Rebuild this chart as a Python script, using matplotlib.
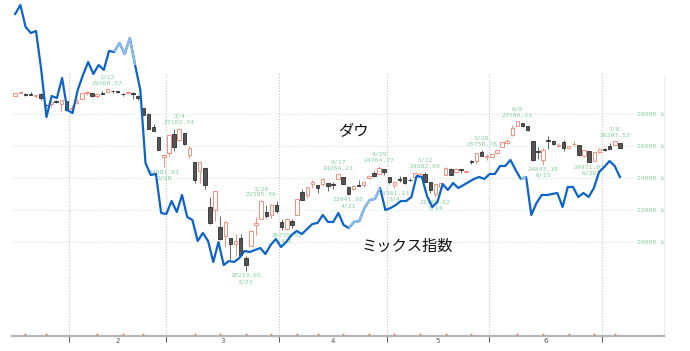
"""Dow candles (Jan-Jul 2020) with the mix index line on a hidden scale."""
import numpy as np
import pandas as pd
import matplotlib
matplotlib.use("Agg")
import matplotlib.pyplot as plt

HOLIDAYS = ["2020-01-20", "2020-02-17", "2020-04-10", "2020-05-25", "2020-07-03"]
dates = pd.bdate_range("2020-01-16", "2020-07-07")
dates = dates[~dates.isin(pd.to_datetime(HOLIDAYS))]

dow_open = [
    29132, 29313, 29261, 29263, 29134, 29235, 28542, 28598, 28820, 28640, 28813,
    28319, 28696, 28939, 29318, 29287, 29094, 29342, 29365, 29458, 29439, 29279,
    29339, 29311, 29150, 28403, 28024, 27209, 26556, 25320,
    25590, 26762, 26383, 26838, 25458, 24992, 24453, 24604, 22184, 21973, 20917,
    20376, 20252, 19899, 20253, 19028, 19722, 21051, 21468, 21898, 21678, 22331,
    21227, 20819, 21285, 21694, 23133, 22917, 23641, 23587, 23634, 23699, 23629,
    23934, 24053, 23419, 23303, 23570, 23537, 23990, 24294, 24274, 24535,
    24085, 23577, 23966, 24041, 23880, 24037, 24154, 24241, 23731, 23024, 23447,
    24185, 24553, 24378, 24532, 24401, 25086, 25061, 25601, 25317,
    25343, 25583, 25917, 26206, 26696, 27232, 27448, 27251, 26282, 25660, 25120,
    26364, 26331, 26016, 26222, 25889, 26146, 26057, 25404, 25661, 25081, 25608,
    25788, 25996, 26079, 26192,
]
dow_high = [
    29301, 29374, 29299, 29373, 29188, 29287, 28645, 28778, 28893, 28859, 28813,
    28592, 28908, 29301, 29408, 29287, 29277, 29415, 29568, 29480, 29441, 29337,
    29407, 29373, 29164, 28403, 28089, 27399, 26556, 25526,
    26706, 27084, 27102, 26838, 25994, 24992, 25020, 24604, 22837, 23186, 21626,
    21332, 20254, 20531, 20531, 19120, 20713, 21565, 22595, 22328, 22378, 22584,
    21428, 21477, 21447, 22680, 23328, 23442, 23866, 23587, 23975, 23699, 23719,
    24264, 24053, 23499, 23534, 23887, 23794, 24187, 24457, 24764, 24535,
    24085, 23776, 24104, 24044, 24010, 24336, 24326, 24382, 23755, 23627, 23702,
    24660, 24640, 24624, 24557, 24466, 25120, 25567, 25759, 25473,
    25517, 25742, 26279, 26420, 27338, 27580, 27448, 27251, 26282, 25963, 25846,
    26611, 26373, 26184, 26356, 26025, 26287, 26057, 25763, 25661, 25597, 25906,
    25891, 26204, 26297, 26193,
]
dow_low = [
    29133, 29289, 29140, 29176, 28972, 28859, 28440, 28467, 28708, 28169, 28169,
    28319, 28696, 28939, 29209, 29056, 29004, 29264, 29365, 29297, 29301, 29101,
    29300, 28940, 28855, 27930, 27058, 26917, 25766, 24681,
    25391, 25706, 26286, 26034, 25226, 23707, 23690, 23328, 21154, 21285, 20115,
    19709, 18917, 19122, 19094, 18213, 19722, 20463, 21469, 21469, 21522, 21835,
    20736, 20735, 20863, 21694, 22642, 22768, 23364, 23052, 23510, 23211, 23317,
    23934, 23633, 22942, 23233, 23476, 23426, 23928, 24083, 24274, 24165,
    23645, 23361, 23769, 23655, 23806, 24037, 24100, 23759, 23054, 22790, 23341,
    24185, 24180, 24378, 24331, 24291, 24892, 24906, 25365, 25117,
    25293, 25478, 25917, 26094, 26651, 27232, 27206, 26962, 25082, 25203, 24843,
    25818, 26055, 25922, 25715, 25814, 26000, 25365, 25324, 24971, 25081, 25576,
    25694, 25786, 26079, 25883,
]
dow_close = [
    29297, 29348, 29196, 29186, 29160, 28989, 28535, 28722, 28734, 28859, 28256,
    28399, 28807, 29290, 29379, 29102, 29276, 29276, 29551, 29423, 29398, 29232,
    29348, 29219, 28992, 27960, 27081, 26957, 25766, 25409,
    26703, 25917, 27091, 26121, 25864, 23851, 25018, 23553, 21200, 23185, 20189,
    21237, 19899, 20087, 19174, 18592, 20704, 21200, 22552, 21637, 22327, 21917,
    20944, 21413, 21053, 22680, 22654, 23434, 23719, 23390, 23950, 23505, 23538,
    24242, 23650, 23019, 23475, 23516, 23775, 24134, 24101, 24634, 24346,
    23724, 23750, 23883, 23665, 23876, 24331, 24222, 23764, 23248, 23625, 23685,
    24597, 24207, 24576, 24474, 24465, 24995, 25548, 25401, 25383,
    25475, 25742, 26270, 26282, 27111, 27572, 27272, 26990, 25128, 25606, 25763,
    26290, 26120, 26080, 25871, 26025, 26156, 25445, 25746, 25016, 25596, 25813,
    25734, 25827, 26287, 25890,
]

# mix index (own scale, no labels), one value per session of its own market
mix_index = [
    218, 222.5, 211.5, 208.5, 209.5, 190, 166.5, 177, 176, 186, 170, 168.5,
    180, 187.5, 194, 188, 192.5, 190, 199.5, 199, 203.5, 198, 206, 192.5, 180,
    143.5, 137.5, 138, 118.5, 118, 124.5, 119, 127.5, 116.5, 115, 104.5, 108.5,
    104.5, 94, 104, 92.5, 94.5, 94, 96, 99.5, 99, 100, 101, 98, 102.5, 105.5,
    101.5, 104, 107.5, 109.5, 108, 110.5, 113, 113.5, 117.5, 114, 114, 118.5,
    112.5, 111, 114, 114.5, 121, 125, 125.5, 131, 120, 121, 122.5, 124.5, 124.5,
    126.5, 137, 136.5, 127, 121.5, 124, 133, 130, 133.5, 131, 132.5, 134, 135.5,
    136.5, 135.5, 138, 138, 142, 142, 145, 140, 135.5, 136.5, 117.5, 123.5,
    127.5, 127.5, 128, 128.5, 121.5, 131.5, 131.5, 126.5, 128.5, 126.5, 131,
    139, 141.5, 144.5, 142, 136.5,
]
mix_light = [(19, 24), (64, 71), (97, 99)]

grid_levels = [20000, 22000, 24000, 26000, 28000]

# (candle date, date text, value text, side)
extremes = [
    ("2020-02-12", "2/12", "29568.57", "high"),
    ("2020-02-28", "2/28", "24681.01", "low"),
    ("2020-03-04", "3/4", "27102.34", "high"),
    ("2020-03-23", "3/23", "18213.65", "low"),
    ("2020-03-26", "3/26", "22595.06", "high"),
    ("2020-04-02", "4/2", "20735.02", "low"),
    ("2020-04-17", "4/17", "24264.21", "high"),
    ("2020-04-21", "4/21", "22941.88", "low"),
    ("2020-04-29", "4/29", "24764.77", "high"),
    ("2020-05-04", "5/4", "23361.13", "low"),
    ("2020-05-12", "5/12", "24382.09", "high"),
    ("2020-05-14", "5/14", "22789.62", "low"),
    ("2020-05-28", "5/28", "25758.78", "high"),
    ("2020-06-08", "6/8", "27580.21", "high"),
    ("2020-06-15", "6/15", "24843.18", "low"),
    ("2020-06-26", "6/26", "24971.03", "low"),
    ("2020-07-06", "7/8", "26297.53", "high"),
]

UP = "#f38f7d"
DOWN = "#555555"
GREEN = "#86cf9e"
BLUE = "#0d64c8"
MONO = "DejaVu Sans Mono"
JP = ["Noto Sans CJK JP", "DejaVu Sans"]

o, h, l, c = (np.array(a, float) for a in (dow_open, dow_high, dow_low, dow_close))
idx = np.arange(len(dates))
up = c >= o

fig = plt.figure(figsize=(6.9, 3.51), dpi=100)
ax = fig.add_axes([12 / 690, 15 / 351, 652 / 690, 336 / 351])
ax.set_xlim(-0.62, 126.6)
ax.set_ylim(14125, 35125)
ymin = ax.get_ylim()[0]

# grid + price labels on the right
ax.hlines(grid_levels, -0.62, 120.5, colors="#cdeedc", lw=0.8,
          linestyles=(0, (1, 1.5)), zorder=1)
for v in grid_levels:
    ax.text(121.3, v, f"{v} $", ha="left", va="center", fontsize=4.6,
            family=MONO, color=GREEN)

m = dates.month.values
month_starts = np.where(m[1:] != m[:-1])[0] + 1
bounds = month_starts - 0.5
ax.vlines(bounds, ymin, 30625, colors="#c4c4c4", lw=0.8,
          linestyles=(0, (1, 1.5)), zorder=1)

# candles
ax.vlines(idx[up], l[up], h[up], colors=UP, lw=0.7, zorder=2)
ax.vlines(idx[~up], l[~up], h[~up], colors="#666666", lw=0.7, zorder=2)
ax.bar(idx[up], c[up] - o[up], bottom=o[up], width=0.7, color="white",
       edgecolor=UP, lw=0.7, zorder=3)
ax.bar(idx[~up], o[~up] - c[~up], bottom=c[~up], width=0.7, color=DOWN,
       edgecolor="#2e2e2e", lw=0.6, zorder=3)

# labelled highs and lows
pos = {d: i for i, d in enumerate(dates.strftime("%Y-%m-%d"))}
for d, dtxt, vtxt, side in extremes:
    i = pos[d]
    if side == "high":
        lines = [(dtxt, 8.6), (vtxt, 4.0)]
        y = h[i]
    else:
        lines = [(vtxt, -3.6), (dtxt, -7.9)]
        y = l[i]
    for txt, off in lines:
        ax.annotate(txt, (i, y), xytext=(0, off), textcoords="offset points",
                    ha="center", va="center", fontsize=4.6, family=MONO,
                    color=GREEN, zorder=4)

ax.text(65.9, 26937, "ダウ", ha="center", va="center", fontsize=11,
        family=JP, color="#111111")
ax.text(76.6, 19750, "ミックス指数", ha="center", va="center", fontsize=11,
        family=JP, color="#111111")

# mix index line on its own hidden scale
ax2 = ax.twinx()
ax2.set_ylim(57, 225)
ax2.set_axis_off()
mx = np.linspace(0, len(dates) - 1, len(mix_index))
mix = np.array(mix_index)
ax2.plot(mx, mix, color=BLUE, lw=1.6, solid_joinstyle="round")
for a, b in mix_light:
    ax2.plot(mx[a:b], mix[a:b], color="#8bbbec", lw=1.6,
             solid_joinstyle="round", solid_capstyle="butt")

# axis styling (after twinx, which turns the left ticks back on)
for s in ("top", "left"):
    ax.spines[s].set_visible(False)
ax.spines["bottom"].set_color("#b5b5b5")
ax.spines["bottom"].set_linewidth(1.6)
ax.spines["right"].set_color("#ececec")
ax.spines["right"].set_linewidth(0.8)
ax.spines["right"].set_bounds(ymin, 30400)
ax.tick_params(axis="y", which="both", left=False, right=False,
               labelleft=False, labelright=False)
ax.set_xticks(bounds)
ax.set_xticklabels([])
ax.tick_params(axis="x", which="major", length=4.5, width=0.7, color="#555555",
               direction="out")
mids = (bounds[:-1] + bounds[1:]) / 2
ax.set_xticks(mids, minor=True)
ax.set_xticklabels([str(v) for v in m[month_starts[:-1]]], minor=True)
ax.tick_params(axis="x", which="minor", length=0, pad=1.2, labelsize=5,
               labelcolor="#555555")

# weekly markers on the time axis
week = dates.isocalendar().week.values
week_starts = [i for i in np.where(week[1:] != week[:-1])[0] + 1
               if i not in month_starts]
ax.plot(week_starts, [0.006] * len(week_starts), ls="none", marker="s", ms=1.1,
        color="#e8604c", mec="none", transform=ax.get_xaxis_transform(),
        clip_on=False, zorder=6)

fig.savefig("out.png", dpi=100, facecolor="white")
